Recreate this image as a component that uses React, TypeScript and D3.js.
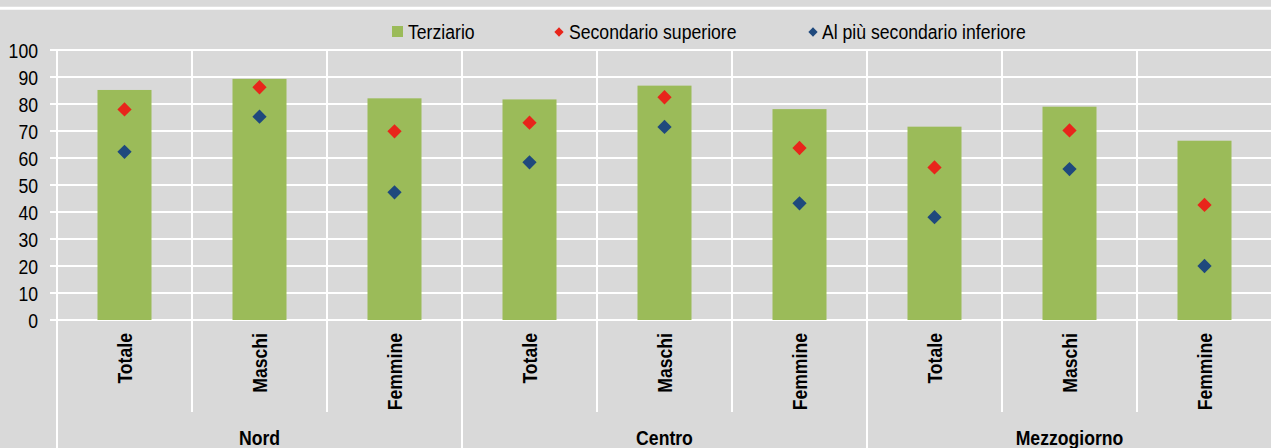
import { useEffect, useRef } from "react";
import * as d3 from "d3";

const groups = ["Nord", "Centro", "Mezzogiorno"];
const subCategories = ["Totale", "Maschi", "Femmine"];
const terziario = [85.2, 89.3, 82.1, 81.7, 86.8, 78.1, 71.6, 79.0, 66.4];
const secondarioSup = [78.0, 86.2, 69.9, 73.1, 82.5, 63.7, 56.5, 70.2, 42.6];
const secondarioInf = [62.3, 75.3, 47.3, 58.4, 71.5, 43.2, 38.1, 55.9, 20.0];
const yTicks = [0, 10, 20, 30, 40, 50, 60, 70, 80, 90, 100];

const BG = "#d9d9d9";
const GREEN = "#9bbb59";
const RED = "#e8251b";
const BLUE = "#1f497d";
const FONT = "'Liberation Sans', Arial, sans-serif";
// no narrow font available, squeeze the glyphs horizontally instead
const NARROW = 0.84;

const App = () => {
  const svgRef = useRef<SVGSVGElement>(null);

  useEffect(() => {
    document.body.style.margin = "0";
    if (!svgRef.current) return;
    const width = 1271;
    const height = 448;
    const svg = d3.select(svgRef.current);
    svg.selectAll("*").remove();
    svg.attr("width", width).attr("height", height).style("display", "block");

    svg.append("rect").attr("width", width).attr("height", height).attr("fill", BG);
    // top white rule
    svg.append("line").attr("x1", 0).attr("x2", width).attr("y1", 8.3).attr("y2", 8.3)
      .attr("stroke", "#fff").attr("stroke-width", 3);

    const cats = d3.range(terziario.length);
    const x = d3.scaleBand<number>().domain(cats).range([57, 1272]).padding(0);
    const y = d3.scaleLinear().domain([0, 100]).range([320, 50]);
    const step = x.step();

    // horizontal gridlines
    svg.append("g").selectAll("line").data(yTicks).enter().append("line")
      .attr("x1", 50).attr("x2", width)
      .attr("y1", (d) => y(d)).attr("y2", (d) => y(d))
      .attr("stroke", "#fff").attr("stroke-width", 2);

    // vertical separators
    const seps = d3.range(terziario.length + 1);
    svg.append("g").selectAll("line").data(seps).enter().append("line")
      .attr("x1", (i) => 57 + i * step).attr("x2", (i) => 57 + i * step)
      .attr("y1", y(100))
      .attr("y2", (i) => (i % 3 === 0 ? height : 412))
      .attr("stroke", "#fff").attr("stroke-width", 2);

    // y labels
    svg.append("g").selectAll("text").data(yTicks).enter().append("text")
      .attr("transform", (d) => `translate(38,${y(d)}) scale(${NARROW},1)`)
      .attr("dy", "0.36em")
      .attr("text-anchor", "end").attr("font-family", FONT).attr("font-size", 21)
      .attr("fill", "#000").text((d) => d);

    const bw = step * 0.4;
    svg.append("g").selectAll("rect").data(terziario).enter().append("rect")
      .attr("x", (_, i) => x(i)! + step / 2 - bw / 2)
      .attr("width", bw)
      .attr("y", (d) => y(d))
      .attr("height", (d) => y(0) - y(d))
      .attr("fill", GREEN);

    const diamond = d3.symbol().type(d3.symbolDiamond2).size(130);
    const drawPts = (vals: number[], color: string) => {
      svg.append("g").selectAll("path").data(vals).enter().append("path")
        .attr("d", diamond)
        .attr("transform", (d, i) => `translate(${x(i)! + step / 2},${y(d)})`)
        .attr("fill", color);
    };
    drawPts(secondarioSup, RED);
    drawPts(secondarioInf, BLUE);

    // category labels
    svg.append("g").selectAll("text").data(cats).enter().append("text")
      .attr("transform", (i) => `translate(${x(i)! + step / 2},333) rotate(-90) scale(${NARROW},1)`)
      .attr("dy", "0.36em").attr("text-anchor", "end")
      .attr("font-family", FONT).attr("font-size", 21).attr("font-weight", "bold")
      .text((i) => subCategories[i % 3]);

    // group labels
    svg.append("g").selectAll("text").data(groups).enter().append("text")
      .attr("transform", (_, g) => `translate(${57 + (g * 3 + 1.5) * step},445) scale(${NARROW},1)`)
      .attr("text-anchor", "middle")
      .attr("font-family", FONT).attr("font-size", 21).attr("font-weight", "bold")
      .text((d) => d);

    // legend
    const legend = svg.append("g").attr("font-family", FONT).attr("font-size", 21);
    legend.append("rect").attr("x", 392).attr("y", 26).attr("width", 11).attr("height", 11).attr("fill", GREEN);
    legend.append("text").attr("transform", `translate(408,39) scale(${NARROW},1)`).text("Terziario");
    const smallDiamond = d3.symbol().type(d3.symbolDiamond2).size(55);
    legend.append("path").attr("d", smallDiamond).attr("transform", "translate(559,32)").attr("fill", RED);
    legend.append("text").attr("transform", `translate(569,39) scale(${NARROW},1)`).text("Secondario superiore");
    legend.append("path").attr("d", smallDiamond).attr("transform", "translate(813,32)").attr("fill", BLUE);
    legend.append("text").attr("transform", `translate(822,39) scale(${NARROW},1)`).text("Al più secondario inferiore");
  }, []);

  return <svg ref={svgRef} />;
};

export default App;
